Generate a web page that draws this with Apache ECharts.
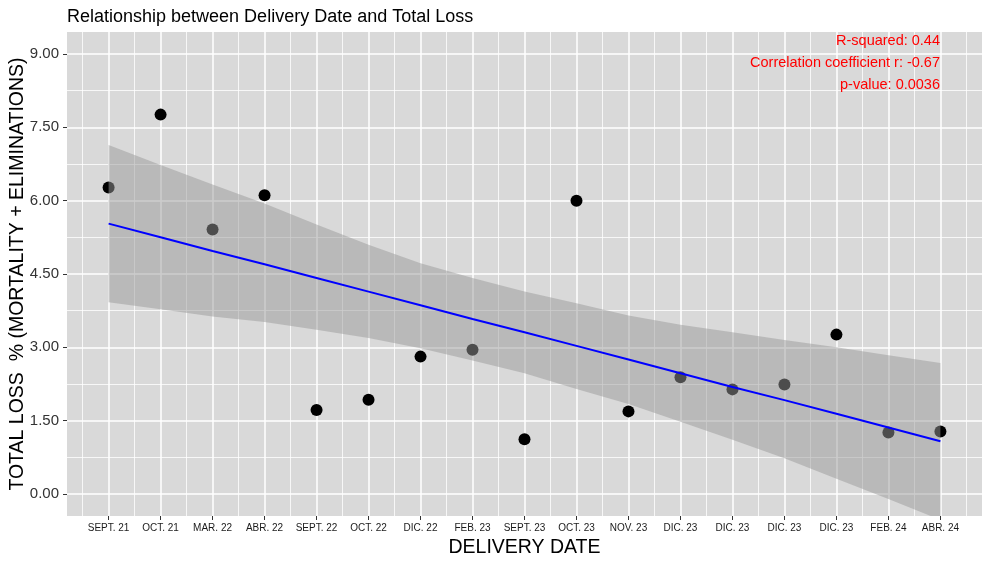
<!DOCTYPE html>
<html>
<head>
<meta charset="utf-8">
<title>Relationship between Delivery Date and Total Loss</title>
<script src="https://cdn.jsdelivr.net/npm/echarts@6/dist/echarts.min.js"></script>
<style>
    html, body { margin: 0; padding: 0; background: #fff; }
    #chart { width: 990px; height: 564px; }
</style>
</head>
<body>
<div id="chart"></div>
<script>
// 数据
var categories = ['SEPT. 21', 'OCT. 21', 'MAR. 22', 'ABR. 22', 'SEPT. 22', 'OCT. 22', 'DIC. 22', 'FEB. 23',
    'SEPT. 23', 'OCT. 23', 'NOV. 23', 'DIC. 23', 'DIC. 23', 'DIC. 23', 'DIC. 23', 'FEB. 24', 'ABR. 24'];
var totalLoss = [6.27, 7.76, 5.41, 6.11, 1.72, 1.93, 2.81, 2.95, 1.12, 6.00, 1.69, 2.39, 2.14, 2.24, 3.26, 1.26, 1.28];
var fitLine = [5.53, 5.25, 4.97, 4.70, 4.42, 4.14, 3.86, 3.58, 3.31, 3.03, 2.75, 2.47, 2.19, 1.92, 1.64, 1.36, 1.08];
var bandUpper = [7.14, 6.73, 6.33, 5.94, 5.51, 5.10, 4.72, 4.42, 4.14, 3.90, 3.65, 3.46, 3.31, 3.15, 3.00, 2.84, 2.68];
var bandLower = [3.92, 3.78, 3.63, 3.52, 3.36, 3.19, 2.98, 2.73, 2.47, 2.15, 1.84, 1.48, 1.11, 0.73, 0.31, -0.10, -0.53];
var yTicks = [0, 1.5, 3, 4.5, 6, 7.5, 9];
var yMinor = [0.75, 2.25, 3.75, 5.25, 6.75, 8.25];
var statsText = ['R-squared: 0.44', 'Correlation coefficient r: -0.67', 'p-value: 0.0036'];

var xTicks = [], xMinor = [-0.5];
var $each = function(arr, fn){ for (var i = 0; i < arr.length; i++) fn(i, arr[i]); };
$each(categories, function(i){ xTicks.push(i); xMinor.push(i + 0.5); });

function pairs(arr){
    var out = [];
    $each(arr, function(i, v){ out.push([i, v]); });
    return out;
}
var bandData = [];
$each(bandUpper, function(i, v){ bandData.push([i, bandLower[i], v]); });

var font = '"Liberation Sans", Arial, sans-serif';

//置信带
function renderBand(params, api){
    if (params.dataIndex !== 0) return;
    var pts = [];
    $each(bandUpper, function(i, v){ pts.push(api.coord([i, v])); });
    for (var i = bandLower.length - 1; i >= 0; i--) {
        pts.push(api.coord([i, bandLower[i]]));
    }
    var cs = params.coordSys;
    return {
        type: 'polygon',
        shape: {points: pts},
        style: {fill: 'rgba(153,153,153,0.5)'},
        clipPath: {type: 'rect', shape: {x: cs.x, y: cs.y, width: cs.width, height: cs.height}}
    };
}

function chartLoss(id){
    var myChart = echarts.init(document.getElementById(id), null, {renderer: 'canvas'});
    var xRange = {min: -0.8, max: 16.8};
    var yRange = {min: -0.45, max: 9.45};
    var option = {
        animation: false,
        textStyle: {fontFamily: font},
        title: {
            text: 'Relationship between Delivery Date and Total Loss',
            left: 62,
            top: 3,
            textStyle: {fontFamily: font, fontSize: 18, fontWeight: 'normal', color: '#000'}
        },
        graphic: statsText.map(function(t, i){
            return {
                type: 'text',
                right: 50,
                top: 33 + i * 22,
                z: 10,
                style: {text: t, fill: '#FF0000', font: '14.5px ' + font, textAlign: 'right'}
            };
        }),
        grid: {
            left: 67,
            right: 8,
            top: 32,
            bottom: 48,
            outerBoundsMode: 'none',
            containLabel: false,
            show: true,
            backgroundColor: '#D9D9D9',
            borderWidth: 0
        },
        xAxis: [{
            type: 'value',
            min: xRange.min,
            max: xRange.max,
            name: 'DELIVERY DATE',
            nameLocation: 'middle',
            nameGap: 22,
            nameMoveOverlap: false,
            nameTextStyle: {fontFamily: font, fontSize: 19.5, color: '#000', verticalAlign: 'top'},
            axisLine: {show: false, onZero: false},
            axisTick: {show: true, customValues: xTicks, length: 4, lineStyle: {color: '#333'}},
            axisLabel: {
                customValues: xTicks,
                margin: 7,
                fontSize: 10,
                color: '#1a1a1a',
                fontFamily: font,
                formatter: function(v){ return categories[Math.round(v)]; }
            },
            splitLine: {show: true, lineStyle: {color: '#fff', width: 1.5}}
        }, {
            type: 'value',
            min: xRange.min,
            max: xRange.max,
            position: 'bottom',
            axisLine: {show: false, onZero: false},
            axisTick: {show: false, customValues: xMinor},
            axisLabel: {show: false, customValues: xMinor},
            splitLine: {show: true, lineStyle: {color: '#fff', width: 0.8}}
        }],
        yAxis: [{
            type: 'value',
            min: yRange.min,
            max: yRange.max,
            name: 'TOTAL LOSS  % (MORTALITY + ELIMINATIONS)',
            nameLocation: 'middle',
            nameGap: 39,
            nameMoveOverlap: false,
            nameTextStyle: {fontFamily: font, fontSize: 19.5, color: '#000'},
            axisLine: {show: false, onZero: false},
            axisTick: {show: true, customValues: yTicks, length: 4, lineStyle: {color: '#333'}},
            axisLabel: {
                customValues: yTicks,
                margin: 8,
                fontSize: 15,
                color: '#333',
                fontFamily: font,
                formatter: function(v){ return v.toFixed(2); }
            },
            splitLine: {show: true, lineStyle: {color: '#fff', width: 1.5}}
        }, {
            type: 'value',
            min: yRange.min,
            max: yRange.max,
            position: 'left',
            axisLine: {show: false, onZero: false},
            axisTick: {show: false, customValues: yMinor},
            axisLabel: {show: false, customValues: yMinor},
            splitLine: {show: true, lineStyle: {color: '#fff', width: 0.8}}
        }],
        series: [
            {
                name: 'Total loss',
                type: 'scatter',
                z: 2,
                symbolSize: 12,
                itemStyle: {color: '#000', opacity: 1},
                data: pairs(totalLoss)
            },
            {
                name: 'band',
                type: 'custom',
                z: 3,
                silent: true,
                renderItem: renderBand,
                data: bandData
            },
            {
                name: 'lm',
                type: 'line',
                z: 4,
                symbol: 'none',
                lineStyle: {color: '#0000FF', width: 2},
                data: pairs(fitLine)
            }
        ]
    };

    myChart.setOption(option);

    return myChart;
}

chartLoss('chart');
</script>
</body>
</html>
